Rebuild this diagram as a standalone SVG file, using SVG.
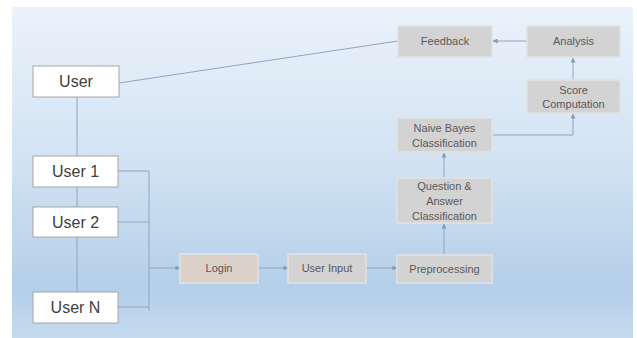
<svg xmlns="http://www.w3.org/2000/svg" width="637" height="338" viewBox="0 0 637 338">
<defs>
<linearGradient id="bg" x1="0" y1="0" x2="0" y2="1">
<stop offset="0" stop-color="#ebf2fb"/>
<stop offset="0.45" stop-color="#d3e3f3"/>
<stop offset="0.85" stop-color="#b4cfe9"/>
<stop offset="1" stop-color="#c5daef"/>
</linearGradient>
<marker id="arr" viewBox="0 0 6 6" refX="5.5" refY="3" markerWidth="5" markerHeight="5" orient="auto">
<path d="M0,0 L6,3 L0,6 z" fill="#7f9cba"/>
</marker>
<style>
.user rect{fill:#ffffff;stroke:#a6a6a6;stroke-width:1}
.user text{font-family:"Liberation Sans",Arial,sans-serif;font-size:16px;fill:#404040;text-anchor:middle}
.proc rect{fill:#d3d3d3;stroke:#e2e2e2;stroke-width:1.5}
.proc text{font-family:"Liberation Sans",Arial,sans-serif;font-size:11px;fill:#595959;text-anchor:middle}
#login rect{fill:#dbd1c9}
.conn line,.conn polyline{fill:none;stroke:#8ea6be;stroke-width:1}
.arrow{marker-end:url(#arr)}
</style>
</defs>
<rect x="0" y="0" width="637" height="338" fill="#ffffff"/>
<rect x="12" y="7" width="621" height="331" fill="url(#bg)"/>

<g id="connectors" class="conn">
<line x1="77" y1="97" x2="77" y2="292"/>
<line x1="119" y1="83" x2="398" y2="41"/>
<line x1="118" y1="171" x2="149" y2="171"/>
<line x1="118" y1="222" x2="149" y2="222"/>
<line x1="118" y1="307" x2="149" y2="307"/>
<line x1="149" y1="171" x2="149" y2="311"/>
<line class="arrow" x1="149" y1="268" x2="180" y2="268"/>
<line class="arrow" x1="258" y1="268" x2="288" y2="268"/>
<line class="arrow" x1="366" y1="268" x2="397" y2="268"/>
<line class="arrow" x1="444" y1="255" x2="444" y2="224"/>
<line class="arrow" x1="444" y1="178" x2="444" y2="153"/>
<polyline class="arrow" points="492,135 573,135 573,114"/>
<line class="arrow" x1="573" y1="80" x2="573" y2="58"/>
<line class="arrow" x1="527" y1="41" x2="493" y2="41"/>
</g>

<g id="user" class="user"><rect x="33" y="66" width="86" height="31"/><text x="76" y="87">User</text></g>
<g id="user1" class="user"><rect x="33" y="156" width="85" height="31"/><text x="75.5" y="177">User 1</text></g>
<g id="user2" class="user"><rect x="33" y="207" width="85" height="30"/><text x="75.5" y="228">User 2</text></g>
<g id="userN" class="user"><rect x="33" y="292" width="85" height="31"/><text x="75.5" y="313">User N</text></g>

<g id="login" class="proc"><rect x="180" y="254" width="78" height="29"/><text x="219" y="272">Login</text></g>
<g id="userinput" class="proc"><rect x="288" y="254" width="78" height="29"/><text x="327" y="272">User Input</text></g>
<g id="preprocessing" class="proc"><rect x="397" y="255" width="95" height="28"/><text x="444.5" y="273">Preprocessing</text></g>
<g id="qa" class="proc"><rect x="397" y="178" width="95" height="45"/><text x="444.5" y="190">Question &amp;</text><text x="444.5" y="205">Answer</text><text x="444.5" y="220">Classification</text></g>
<g id="naivebayes" class="proc"><rect x="397" y="118" width="95" height="34"/><text x="444.5" y="132">Naive Bayes</text><text x="444.5" y="147">Classification</text></g>
<g id="score" class="proc"><rect x="527" y="80" width="93" height="33"/><text x="573.5" y="94">Score</text><text x="573.5" y="108">Computation</text></g>
<g id="analysis" class="proc"><rect x="527" y="26" width="93" height="31"/><text x="573.5" y="45">Analysis</text></g>
<g id="feedback" class="proc"><rect x="398" y="26" width="94" height="31"/><text x="445" y="45">Feedback</text></g>
</svg>
